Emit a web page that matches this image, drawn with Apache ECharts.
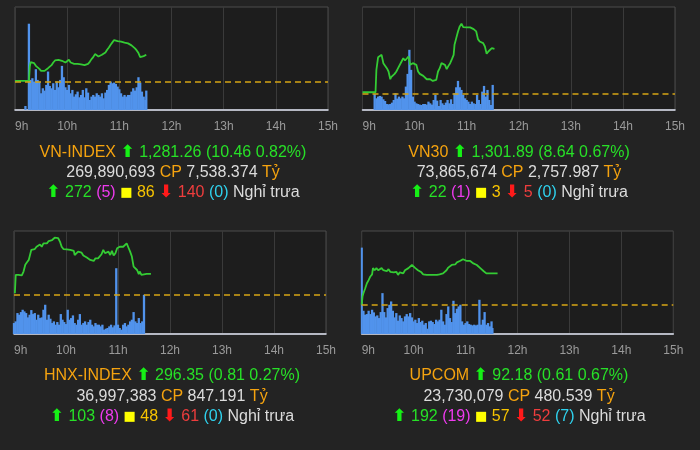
<!DOCTYPE html>
<html><head><meta charset="utf-8">
<script src="https://cdn.jsdelivr.net/npm/echarts@6/dist/echarts.min.js"></script>
<style>html,body{margin:0;padding:0;background:#232323}#c{width:700px;height:450px}</style>
</head><body><div id="c"></div><script>
// ---------- data ----------
const xTickLabels = ['9h','10h','11h','12h','13h','14h','15h']; // minutes from 9:00 -> tick every 60

// VN-INDEX
const vnRef = 1270.80;
const vnLine = [[0,1271.3],[16,1271.3],[17,1276.8],[18,1278.46],[20,1278.46],[22,1278.08],[24,1277.06],[26,1276.42],[28,1275.91],[30,1275.14],[32,1274.5],[34,1275.14],[36,1275.52],[38,1276.16],[40,1276.42],[42,1277.31],[44,1278.33],[46,1279.1],[48,1279.74],[50,1279.36],[52,1279.36],[54,1278.97],[56,1278.59],[58,1278.33],[60,1278.72],[62,1279.36],[64,1278.33],[66,1278.08],[68,1277.82],[70,1278.08],[72,1277.82],[74,1277.44],[76,1277.57],[78,1277.31],[80,1277.31],[82,1277.19],[84,1277.82],[86,1278.59],[88,1279.61],[90,1280.38],[92,1281.53],[94,1281.65],[96,1280.63],[98,1280.89],[100,1281.27],[102,1281.91],[104,1282.17],[106,1283.19],[108,1284.08],[110,1285.1],[112,1286.0],[114,1286.89],[116,1287.02],[118,1286.51],[120,1286.38],[122,1286.25],[124,1286.25],[126,1285.87],[128,1285.74],[130,1285.61],[132,1285.36],[134,1284.85],[136,1284.21],[138,1283.7],[140,1282.93],[142,1281.91],[144,1280.38],[146,1280.63],[148,1280.76],[150,1281.02],[151,1281.26]];
const vnVolume = [[12,12],[16,258],[18,90],[20,95],[22,85],[24,122],[26,90],[28,85],[30,50],[32,65],[34,58],[36,75],[38,115],[40,72],[42,65],[44,80],[46,60],[48,85],[50,68],[52,90],[54,132],[56,98],[58,68],[60,60],[62,75],[64,50],[66,60],[68,40],[70,47],[72,55],[74,38],[76,45],[78,60],[80,38],[82,65],[84,52],[86,30],[88,40],[90,45],[92,40],[94,50],[96,45],[98,40],[100,50],[102,35],[104,52],[106,60],[108,75],[110,85],[112,80],[114,82],[116,78],[118,70],[120,62],[122,50],[124,40],[126,45],[128,40],[130,45],[132,45],[134,55],[136,65],[138,58],[140,68],[142,98],[144,82],[146,55],[148,40],[150,30],[151,58]];
const vnHeader = ['VN-INDEX','1,281.26 (10.46 0.82%)'];
const vnTrade = ['269,890,693','7,538.374'];
const vnBreadth = ['272','(5)','86','140','(0)'];

// VN30
const vn30Ref = 1293.25;
const vn30Line = [[0,1293.51],[15,1293.51],[16,1297.83],[18,1300.28],[20,1300.54],[22,1300.73],[24,1299.12],[26,1299.44],[28,1298.15],[30,1297.51],[32,1296.02],[33,1296.41],[35,1296.67],[37,1297.05],[39,1297.51],[41,1298.15],[43,1298.47],[45,1299.44],[47,1300.08],[49,1299.63],[51,1299.25],[53,1300.41],[55,1298.8],[57,1298.47],[58,1299.12],[60,1299.44],[62,1298.8],[64,1297.51],[66,1297.05],[68,1296.86],[70,1296.67],[72,1296.41],[74,1296.02],[76,1296.35],[78,1296.02],[80,1296.22],[81,1295.7],[83,1295.64],[85,1295.89],[87,1297.51],[89,1298.15],[91,1299.12],[93,1299.44],[95,1298.8],[97,1297.96],[99,1298.6],[101,1299.12],[103,1299.89],[105,1300.73],[106,1302.66],[108,1303.95],[110,1305.24],[112,1306.21],[114,1306.73],[116,1306.08],[118,1305.82],[120,1306.02],[122,1305.89],[124,1306.02],[126,1305.82],[128,1305.69],[130,1305.89],[131,1305.24],[133,1303.76],[135,1303.31],[137,1303.5],[139,1302.99],[141,1302.34],[143,1300.92],[145,1301.37],[147,1301.7],[149,1302.02],[151,1301.89],[152,1301.89]];
const vn30Volume = [[14,48],[16,35],[18,40],[20,42],[22,40],[24,32],[26,27],[28,18],[30,17],[32,18],[34,22],[36,30],[38,50],[40,34],[42,40],[44,35],[46,40],[48,35],[50,70],[52,108],[54,180],[56,120],[58,40],[60,25],[62,20],[64,18],[66,16],[68,15],[70,18],[72,18],[74,16],[76,25],[78,20],[80,16],[82,30],[84,45],[86,28],[88,12],[90,30],[92,20],[94,15],[96,22],[98,30],[100,20],[102,32],[104,18],[106,50],[108,68],[110,87],[112,68],[114,60],[116,45],[118,35],[120,30],[122,25],[124,18],[126,25],[128,20],[130,18],[132,45],[134,30],[136,18],[138,55],[140,72],[142,40],[144,60],[146,30],[148,15],[150,75]];
const vn30Header = ['VN30','1,301.89 (8.64 0.67%)'];
const vn30Trade = ['73,865,674','2,757.987'];
const vn30Breadth = ['22','(1)','3','5','(0)'];

// HNX-INDEX
const hnxRef = 295.54;
const hnxLine = [[1,295.6],[2,296.31],[3,296.38],[5,296.31],[7,296.34],[9,296.29],[11,296.44],[13,296.7],[15,296.8],[17,296.89],[19,296.95],[20,297.28],[22,297.34],[24,297.31],[26,297.4],[28,297.44],[30,297.49],[32,297.4],[34,297.53],[36,297.6],[38,297.53],[40,297.62],[42,297.57],[44,297.66],[45,297.73],[47,297.75],[49,297.7],[51,297.73],[53,297.6],[55,297.4],[57,297.31],[59,297.34],[61,297.3],[63,297.31],[65,297.28],[67,297.29],[69,297.24],[70,297.08],[72,297.15],[74,297.21],[76,297.24],[78,297.17],[80,297.06],[82,297.04],[84,296.98],[86,297.02],[88,296.89],[90,296.95],[92,296.85],[94,296.95],[95,296.89],[97,296.95],[99,297.02],[101,297.11],[103,297.28],[105,297.15],[107,297.21],[109,297.21],[111,297.08],[113,297.24],[115,297.06],[117,297.15],[119,297.34],[120,297.4],[122,297.4],[124,297.44],[126,297.4],[128,297.44],[130,297.53],[132,297.37],[134,297.21],[136,297.02],[138,296.63],[140,296.59],[142,296.5],[144,296.34],[145,296.44],[147,296.31],[149,296.35],[153,296.35],[158,296.35]];
const hnxVolume = [[0,33],[2,38],[4,63],[6,58],[8,66],[10,73],[12,68],[14,63],[16,50],[18,58],[20,72],[22,60],[24,63],[26,43],[28,58],[30,48],[32,50],[34,73],[36,88],[38,43],[40,58],[42,46],[44,33],[46,38],[48,28],[50,36],[52,28],[54,60],[56,43],[58,36],[60,30],[62,73],[64,43],[66,48],[68,56],[70,33],[72,28],[74,43],[76,60],[78,28],[80,33],[82,38],[84,28],[86,36],[88,43],[90,28],[92,23],[94,33],[96,28],[98,28],[100,23],[102,28],[104,13],[106,16],[108,18],[110,23],[112,28],[114,20],[116,26],[118,198],[120,28],[122,18],[124,13],[126,28],[128,33],[130,23],[132,28],[134,38],[136,43],[138,66],[140,38],[142,33],[144,48],[146,33],[148,38],[150,118]];
const hnxHeader = ['HNX-INDEX','296.35 (0.81 0.27%)'];
const hnxTrade = ['36,997,383','847.191'];
const hnxBreadth = ['103','(8)','48','61','(0)'];

// UPCOM
const upRef = 91.57;
const upLine = [[0,91.58],[1,91.74],[2,91.8],[4,91.89],[6,91.99],[8,92.05],[10,92.12],[12,92.16],[13,92.28],[15,92.24],[17,92.28],[19,92.24],[21,92.26],[23,92.28],[25,92.24],[27,92.26],[29,92.22],[31,92.26],[33,92.21],[35,92.22],[37,92.2],[38,92.18],[40,92.21],[42,92.15],[44,92.2],[46,92.21],[48,92.18],[50,92.24],[52,92.21],[54,92.28],[56,92.31],[58,92.34],[60,92.31],[62,92.28],[64,92.26],[65,92.24],[67,92.21],[69,92.2],[71,92.16],[73,92.15],[75,92.15],[77,92.12],[79,92.15],[81,92.14],[83,92.15],[85,92.14],[87,92.15],[89,92.14],[90,92.16],[92,92.15],[94,92.18],[96,92.21],[98,92.24],[100,92.29],[102,92.31],[104,92.34],[106,92.37],[108,92.35],[110,92.39],[112,92.42],[114,92.42],[115,92.43],[117,92.45],[119,92.43],[121,92.42],[123,92.43],[125,92.42],[127,92.4],[129,92.37],[131,92.35],[133,92.34],[135,92.31],[137,92.28],[139,92.26],[141,92.22],[142,92.2],[144,92.18],[146,92.17],[150,92.18],[154,92.18],[157,92.18]];
const upVolume = [[0,260],[2,70],[4,58],[6,60],[8,70],[10,60],[12,73],[14,65],[16,53],[18,56],[20,48],[22,66],[24,123],[26,66],[28,50],[30,78],[32,88],[34,98],[36,70],[38,50],[40,63],[42,40],[44,56],[46,48],[48,38],[50,53],[52,60],[54,53],[56,63],[58,50],[60,38],[62,43],[64,33],[66,48],[68,36],[70,40],[72,28],[74,33],[76,16],[78,38],[80,40],[82,36],[84,30],[86,43],[88,38],[90,43],[92,73],[94,38],[96,28],[98,60],[100,83],[102,48],[104,36],[106,100],[108,63],[110,76],[112,83],[114,88],[116,38],[118,28],[120,33],[122,38],[124,30],[126,28],[128,26],[130,28],[132,26],[134,28],[136,103],[138,28],[140,43],[142,66],[144,28],[146,33],[148,23],[150,38],[151,18]];
const upHeader = ['UPCOM','92.18 (0.61 0.67%)'];
const upTrade = ['23,730,079','480.539'];
const upBreadth = ['192','(19)','57','52','(7)'];

// ---------- layout / styles ----------
const panels = [
  {line: vnLine, vol: vnVolume, ref: vnRef, pMin: 1260.2, pMax: 1299.5, vMax: 308,
   grid: {left: 15, top: 7, width: 313, height: 103}, cx: 173, ty: [152.5, 172.3, 192.6],
   header: vnHeader, trade: vnTrade, breadth: vnBreadth},
  {line: vn30Line, vol: vn30Volume, ref: vn30Ref, pMin: 1290.09, pMax: 1309.95, vMax: 308,
   grid: {left: 362.5, top: 7, width: 312.5, height: 103}, cx: 519, ty: [152.5, 172.3, 192.6],
   header: vn30Header, trade: vn30Trade, breadth: vn30Breadth},
  {line: hnxLine, vol: hnxVolume, ref: hnxRef, pMin: 294.02, pMax: 298.01, vMax: 310,
   grid: {left: 14, top: 231, width: 312, height: 103}, cx: 172, ty: [375.3, 396.3, 417],
   header: hnxHeader, trade: hnxTrade, breadth: hnxBreadth},
  {line: upLine, vol: upVolume, ref: upRef, pMin: 91.02, pMax: 92.99, vMax: 310,
   grid: {left: 361.7, top: 231, width: 311.6, height: 103}, cx: 519, ty: [375.3, 396.3, 417],
   header: upHeader, trade: upTrade, breadth: upBreadth}
];

const FONT = '"Liberation Sans", Arial, sans-serif';
function rs(fill, family, size, weight) { return {fill: fill, fontSize: size || 16, fontFamily: family || FONT, fontWeight: weight || 'normal', lineHeight: 20}; }
const rich = {
  o: rs('#f5a30f'), g: rs('#27e027'), w: rs('#dcdcdc'), m: rs('#ee3aee'),
  y: rs('#f7c400'), sq: rs('#ffff00', '"DejaVu Sans"', 13), r: rs('#ee3d3d'),
  ga: rs('#16f016', '"DejaVu Sans"', 17, 'bold'), ra: rs('#ff1a1a', '"DejaVu Sans"', 17, 'bold'), c: rs('#2fd2ee')
};

const grids = [], xAxes = [], yAxes = [], series = [], graphics = [];
panels.forEach((p, i) => {
  grids.push(Object.assign({show: true, backgroundColor: '#1d1d1d', borderColor: '#4c4c4c', borderWidth: 1}, p.grid));
  xAxes.push({type: 'value', gridIndex: i, min: 0, max: 360, interval: 60,
    axisLabel: {formatter: v => xTickLabels[Math.round(v / 60)], color: '#9a9a9a', fontSize: 12, fontFamily: FONT, margin: 11, alignMinLabel: 'left'},
    axisLine: {show: true, onZero: false, lineStyle: {color: '#dfe3f2', width: 1.5}},
    axisTick: {show: false},
    splitLine: {show: true, lineStyle: {color: '#3a3a3a', width: 1}}});
  yAxes.push({type: 'value', gridIndex: i, min: p.pMin, max: p.pMax, show: false});
  yAxes.push({type: 'value', gridIndex: i, min: 0, max: p.vMax, show: false});
  series.push({type: 'bar', xAxisIndex: i, yAxisIndex: 2 * i + 1, data: p.vol, barWidth: 2.3,
    itemStyle: {color: '#5193ec'}, silent: true, animation: false, large: false});
  series.push({type: 'line', xAxisIndex: i, yAxisIndex: 2 * i, data: p.line, symbol: 'none',
    lineStyle: {color: '#34cc34', width: 1.8}, silent: true, animation: false, z: 3,
    markLine: {symbol: 'none', silent: true, animation: false, label: {show: false},
      lineStyle: {color: '#d6a514', type: [6, 4], width: 1.6}, data: [{yAxis: p.ref}]}});
  const b = p.breadth;
  const texts = [
    `{o|${p.header[0]}} {ga|⬆} {g|${p.header[1]}}`,
    `{w|${p.trade[0]}} {o|CP} {w|${p.trade[1]}} {o|Tỷ}`,
    `{ga|⬆} {g|${b[0]}} {m|${b[1]}} {sq|■} {y|${b[2]}} {ra|⬇} {r|${b[3]}} {c|${b[4]}} {w|Nghỉ trưa}`
  ];
  texts.forEach((t, j) => {
    graphics.push({type: 'text', x: p.cx, y: p.ty[j], silent: true,
      style: {text: t, rich: rich, align: 'center', verticalAlign: 'middle', fontSize: 16, fontFamily: FONT, fill: '#dcdcdc'}});
  });
});

const chart = echarts.init(document.getElementById('c'), null, {renderer: 'canvas'});
chart.setOption({
  backgroundColor: '#232323',
  animation: false,
  grid: grids, xAxis: xAxes, yAxis: yAxes, series: series,
  graphic: {elements: graphics}
});
</script></body></html>
